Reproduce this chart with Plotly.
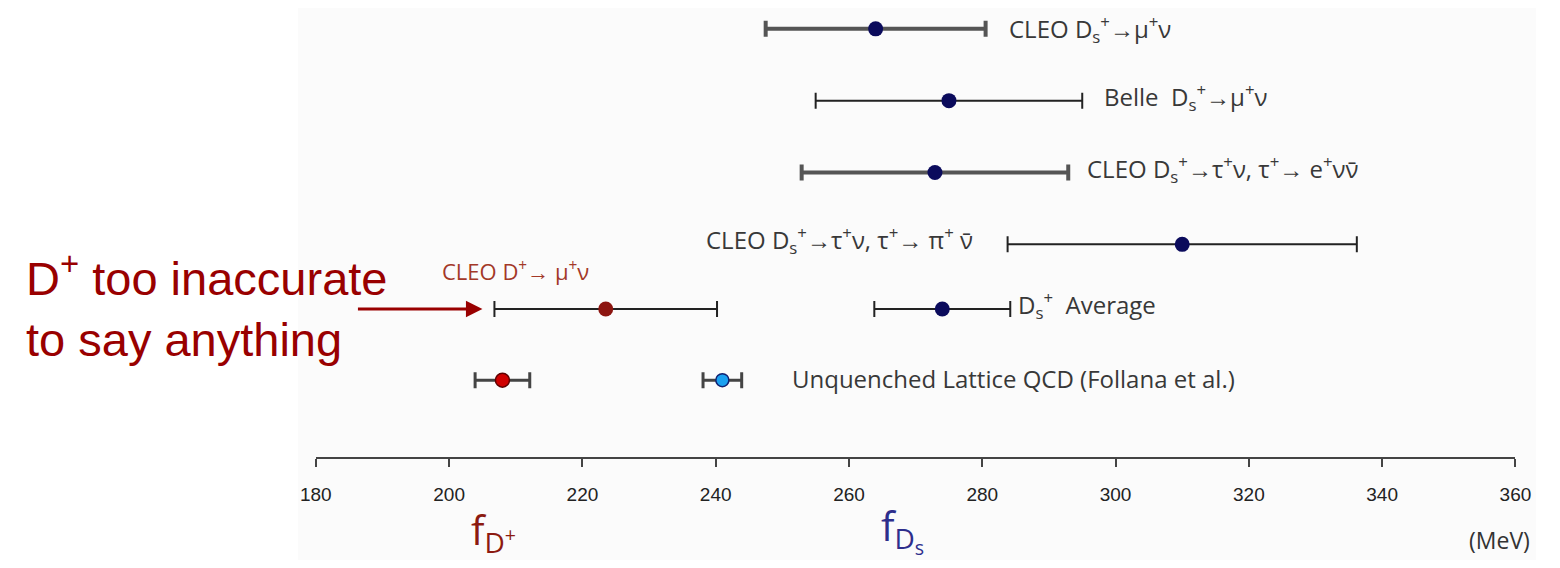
import plotly.graph_objects as go

# rows (top to bottom) on an arbitrary vertical scale
row_y = [5.96, 4.96, 3.96, 2.96, 2.06, 1.07]

# f_Ds measurements (MeV)
ds_labels = [
    "CLEO D<sub>s</sub><sup>+</sup>→μ<sup>+</sup>ν",
    "Belle  D<sub>s</sub><sup>+</sup>→μ<sup>+</sup>ν",
    "CLEO D<sub>s</sub><sup>+</sup>→τ<sup>+</sup>ν, τ<sup>+</sup>→ e<sup>+</sup>νν̄",
    "CLEO D<sub>s</sub><sup>+</sup>→τ<sup>+</sup>ν, τ<sup>+</sup>→ π<sup>+</sup> ν̄",
    "D<sub>s</sub><sup>+</sup>  Average",
]
ds_values = [264.0, 275.0, 272.9, 310.0, 274.0]
ds_errors = [16.5, 20.0, 20.0, 26.2, 10.2]

# f_D+ measurement
dp_label = "CLEO D<sup>+</sup>→ μ<sup>+</sup>ν"
dp_value = 223.5
dp_error = 16.7

# lattice QCD predictions
lat_label = "Unquenched Lattice QCD (Follana et al.)"
lat_dp_value, lat_dp_error = 208.0, 4.1
lat_ds_value, lat_ds_error = 241.0, 2.9

x_ticks = [180, 200, 220, 240, 260, 280, 300, 320, 340, 360]

comment_lines = ["D<sup>+</sup> too inaccurate", "to say anything"]

NAVY = "#0b0b5c"
DARK_RED = "#990000"
LABEL_FONT = "Open Sans"
W, H = 1544, 552

fig = go.Figure()

thick_rows = {0, 2}
for i, (v, e) in enumerate(zip(ds_values, ds_errors)):
    thick = i in thick_rows
    fig.add_trace(go.Scatter(
        x=[v], y=[row_y[i]], mode="markers",
        marker=dict(size=15, color=NAVY),
        error_x=dict(type="data", array=[e], visible=True,
                     color="#555555" if thick else "#222222",
                     thickness=4 if thick else 2, width=8),
        showlegend=False, hoverinfo="x",
    ))

fig.add_trace(go.Scatter(
    x=[dp_value], y=[row_y[4]], mode="markers",
    marker=dict(size=15, color="#8c1510"),
    error_x=dict(type="data", array=[dp_error], visible=True,
                 color="#222222", thickness=2, width=8),
    showlegend=False, hoverinfo="x",
))

fig.add_trace(go.Scatter(
    x=[lat_dp_value], y=[row_y[5]], mode="markers",
    marker=dict(size=14, color="#d00000", line=dict(color="#600000", width=1.5)),
    error_x=dict(type="data", array=[lat_dp_error], visible=True,
                 color="#444444", thickness=3, width=8),
    showlegend=False, hoverinfo="x",
))
fig.add_trace(go.Scatter(
    x=[lat_ds_value], y=[row_y[5]], mode="markers",
    marker=dict(size=13, color="#1aa0f0", line=dict(color="#102070", width=1.5)),
    error_x=dict(type="data", array=[lat_ds_error], visible=True,
                 color="#444444", thickness=3, width=8),
    showlegend=False, hoverinfo="x",
))

label_font = dict(family=LABEL_FONT, size=24, color="#383838")

# labels to the right of the bars (row 3 sits on the left)
shifts = [21, 20, 17, None, 6]
for i, (lab, v, e) in enumerate(zip(ds_labels, ds_values, ds_errors)):
    if shifts[i] is None:
        fig.add_annotation(x=v - e, y=row_y[i], text=lab, showarrow=False,
                           xanchor="right", xshift=-33, yshift=4, font=label_font)
    else:
        fig.add_annotation(x=v + e, y=row_y[i], text=lab, showarrow=False,
                           xanchor="left", xshift=shifts[i],
                           yshift=0 if i == 0 else 4, font=label_font)

fig.add_annotation(x=dp_value - dp_error, y=row_y[4], text=dp_label, showarrow=False,
                   xanchor="left", xshift=-54, yshift=39,
                   font=dict(family=LABEL_FONT, size=22, color="#a33828"))

fig.add_annotation(x=lat_ds_value + lat_ds_error, y=row_y[5], text=lat_label,
                   showarrow=False, xanchor="left", xshift=48, yshift=2,
                   font=label_font)

# left comment with arrow
for line, ypos in zip(comment_lines, [0.516, 0.400]):
    fig.add_annotation(x=0.0, y=ypos, xref="paper", yref="paper", text=line,
                       showarrow=False, xanchor="left", yanchor="middle",
                       font=dict(family="Liberation Sans", size=47, color=DARK_RED))
fig.add_annotation(x=dp_value - dp_error, y=row_y[4], text="", xshift=-12,
                   showarrow=True, arrowhead=2, arrowsize=1.1, arrowwidth=3,
                   arrowcolor=DARK_RED, ax=-126, ay=0, axref="pixel", ayref="pixel")

# axis quantity labels
fig.add_annotation(x=0.3106, y=0.0, xref="paper", yref="paper",
                   text="f<sub>D<sup>+</sup></sub>", showarrow=False,
                   xanchor="center", yanchor="bottom", yshift=-3,
                   font=dict(family=LABEL_FONT, size=40, color="#8c1a10"))
fig.add_annotation(x=0.581, y=0.0, xref="paper", yref="paper",
                   text="f<sub>D<sub>s</sub></sub>", showarrow=False,
                   xanchor="center", yanchor="bottom", yshift=-3,
                   font=dict(family=LABEL_FONT, size=40, color="#2e2e8c"))
fig.add_annotation(x=1.0, y=0.036, xref="paper", yref="paper",
                   text="(MeV)", showarrow=False, xanchor="right", yanchor="middle",
                   xshift=-4, font=dict(family=LABEL_FONT, size=23, color="#333333"))

# light panel background
fig.add_shape(type="rect", xref="paper", yref="paper", x0=280 / W, x1=1, y0=0, y1=1,
              fillcolor="#fbfbfb", line=dict(width=0), layer="below")

fig.update_layout(
    width=W, height=H,
    margin=dict(l=0, r=0, t=0, b=0),
    paper_bgcolor="white", plot_bgcolor="rgba(0,0,0,0)",
    xaxis=dict(domain=[298 / W, 1523 / W], range=[180, 360],
               tickvals=x_ticks, ticks="outside", ticklen=8, tickwidth=2,
               tickcolor="#444444", showline=True, linewidth=2, linecolor="#444444",
               showgrid=False, zeroline=False, ticklabelstandoff=11,
               tickfont=dict(family="Liberation Sans", size=19, color="#222222")),
    yaxis=dict(domain=[(H - 449) / H, 1], range=[0, 6.25], visible=False,
               showgrid=False, zeroline=False),
)

fig.write_html("out.html")
